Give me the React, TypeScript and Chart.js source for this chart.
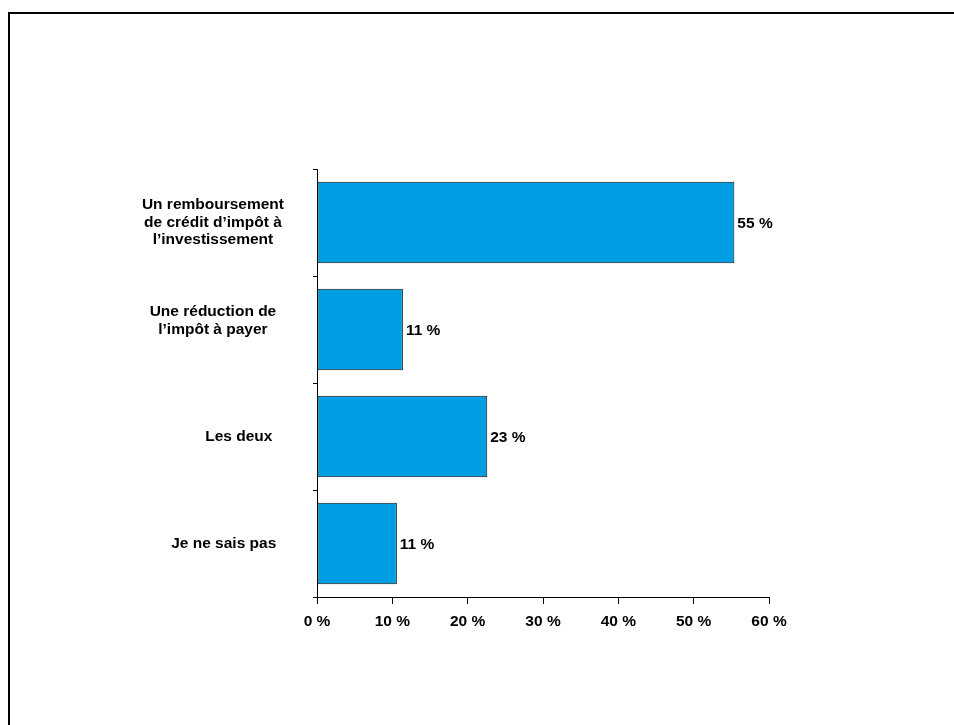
import React, { useEffect, useRef } from "react";
import { Chart, registerables } from "chart.js";

Chart.register(...registerables);

const categories: (string | string[])[] = [
  ["Un remboursement", "de crédit d’impôt à", "l’investissement"],
  ["Une réduction de", "l’impôt à payer", ""],
  "            Les deux",
  "     Je ne sais pas",
];
const values = [55.4, 11.4, 22.6, 10.6];
const xTickValues = [0, 10, 20, 30, 40, 50, 60];

const FONT_FAMILY = "Arial, 'Liberation Sans', sans-serif";

const valueLabelPlugin = {
  id: "valueLabels",
  afterDatasetsDraw(chart: any) {
    const ctx = chart.ctx;
    const meta = chart.getDatasetMeta(0);
    ctx.save();
    ctx.font = `bold 15.5px ${FONT_FAMILY}`;
    ctx.fillStyle = "#000";
    ctx.textAlign = "left";
    ctx.textBaseline = "middle";
    meta.data.forEach((el: any, i: number) => {
      ctx.fillText(`${Math.round(values[i])} %`, el.x + 3, el.y + 1);
    });
    ctx.restore();
  },
};

export default function App() {
  const ref = useRef<HTMLCanvasElement | null>(null);
  useEffect(() => {
    document.body.style.overflow = "hidden";
    document.documentElement.style.overflow = "hidden";
    if (!ref.current) return;
    const chart = new Chart(ref.current, {
      type: "bar",
      data: {
        labels: categories,
        datasets: [
          {
            data: values,
            backgroundColor: "#009fe3",
            borderColor: "#111",
            borderWidth: 1,
            borderSkipped: false,
            categoryPercentage: 1,
            barPercentage: 0.76,
          },
        ],
      },
      options: {
        indexAxis: "y",
        animation: false,
        responsive: false,
        devicePixelRatio: 1,
        layout: { padding: { left: 0, right: 185, top: 155, bottom: 88 } },
        plugins: {
          legend: { display: false },
          tooltip: { enabled: false },
        },
        scales: {
          x: {
            min: 0,
            max: 60,
            afterFit(scale: any) {
              scale.height = 40;
            },
            afterBuildTicks(scale: any) {
              scale.ticks = xTickValues.map((v) => ({ value: v }));
            },
            ticks: {
              callback: (v: any) => `${v} %`,
              color: "#000",
              padding: 8,
              maxRotation: 0,
              font: { family: FONT_FAMILY, size: 15.5, weight: "bold" },
            },
            grid: {
              drawOnChartArea: false,
              drawTicks: true,
              tickLength: 7,
              color: "#000",
              lineWidth: 1,
            },
            border: { color: "#000", width: 1 },
          },
          y: {
            afterFit(scale: any) {
              scale.width = 307;
            },
            ticks: {
              color: "#000",
              crossAlign: "center",
              padding: 29,
              autoSkip: false,
              font: { family: FONT_FAMILY, size: 15.5, weight: "bold", lineHeight: 1.12 },
            },
            grid: {
              offset: true,
              drawOnChartArea: false,
              drawTicks: true,
              tickLength: 4,
              color: "#000",
              lineWidth: 1,
            },
            border: { color: "#000", width: 1 },
          },
        },
      },
      plugins: [valueLabelPlugin],
    });
    return () => chart.destroy();
  }, []);

  return (
    <div
      style={{
        position: "fixed",
        left: 8,
        top: 12,
        width: 960,
        height: 730,
        borderTop: "2px solid #000",
        borderLeft: "2px solid #000",
        background: "#fff",
      }}
    >
      <canvas ref={ref} width={944} height={711} style={{ display: "block" }} />
    </div>
  );
}
